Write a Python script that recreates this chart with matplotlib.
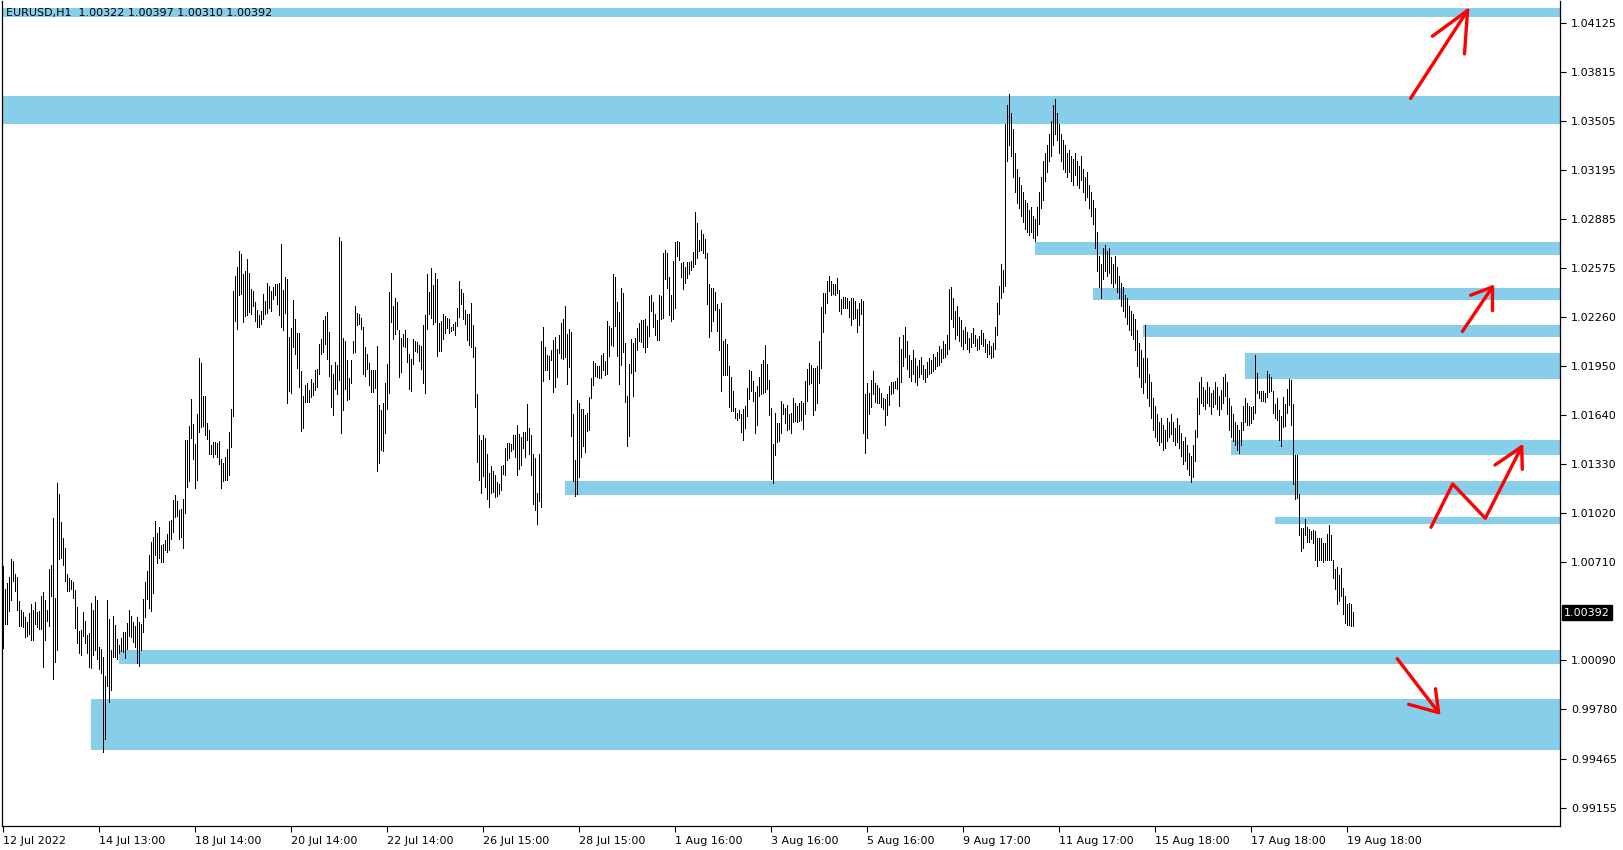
import matplotlib
matplotlib.use("Agg")
import matplotlib.pyplot as plt
from matplotlib.patches import Rectangle
from matplotlib.lines import Line2D

W, H = 1624, 850

TITLE = "EURUSD,H1  1.00322 1.00397 1.00310 1.00392"

HIGH = [
    # 12-14 Jul
    1.00686, 1.00541, 1.00579, 1.00617, 1.00731, 1.00718, 1.00636, 1.00617, 1.00465, 1.00408,
    1.00395, 1.00363, 1.00332, 1.00389, 1.00446, 1.00408, 1.00458, 1.00395, 1.00401, 1.00496,
    1.00522, 1.00471, 1.00408, 1.00667, 1.00693, 1.00990, 1.00484, 1.01212, 1.01142, 1.00965,
    1.00864, 1.00800, 1.00636, 1.00610, 1.00598, 1.00585, 1.00534, 1.00427, 1.00275, 1.00281,
    1.00395, 1.00338, 1.00250, 1.00262, 1.00452, 1.00408, 1.00496, 1.00471, 1.00174, 1.00161,
    1.00110, 0.99990, 1.00471, 1.00351, 1.00155, 1.00370, 1.00313, 1.00224, 1.00186, 1.00231,
    1.00269, 1.00269, 1.00326, 1.00408, 1.00370, 1.00332, 1.00307, 1.00363, 1.00332, 1.00319,
    1.00477, 1.00585, 1.00655, 1.00756, 1.00838,
    # 15-19 Jul
    1.00869, 1.00970, 1.00894, 1.00932, 1.00818, 1.00824, 1.00850, 1.00888, 1.00970, 1.00976,
    1.01103, 1.01135, 1.01097, 1.01040, 1.01046, 1.01109, 1.01483, 1.01483, 1.01571, 1.01742,
    1.01584, 1.01457, 1.01647, 1.02002, 1.01970, 1.01761, 1.01761, 1.01590, 1.01546, 1.01451,
    1.01470, 1.01470, 1.01464, 1.01476, 1.01362, 1.01337, 1.01375, 1.01426, 1.01533, 1.01679,
    1.02426, 1.02521, 1.02578, 1.02679, 1.02660, 1.02533, 1.02552, 1.02628, 1.02540, 1.02439,
    1.02426, 1.02356, 1.02306, 1.02274, 1.02299, 1.02407, 1.02363, 1.02477, 1.02458, 1.02426,
    1.02451, 1.02470, 1.02470, 1.02477, 1.02723, 1.02432, 1.02514, 1.02502, 1.02135, 1.02192,
    1.02369, 1.02249, 1.02160, 1.02160, 1.01919,
    # 19-22 Jul
    1.01761, 1.01831, 1.01844, 1.01799, 1.01869, 1.01844, 1.01926, 1.01932, 1.02090, 1.02122,
    1.02242, 1.02268, 1.02293, 1.02166, 1.01957, 1.01900, 1.01976, 1.01957, 1.02768, 1.02742,
    1.02128, 1.02109, 1.01989, 1.01875, 1.01989, 1.02109, 1.02331, 1.02287, 1.02280, 1.02255,
    1.02198, 1.02071, 1.02027, 1.01970, 1.01926, 1.01926, 1.01926, 1.02078, 1.01704, 1.01673,
    1.01717, 1.01844, 1.01964, 1.02420, 1.02540, 1.02331, 1.02382, 1.02356, 1.02179, 1.02128,
    1.02154, 1.02179, 1.02128, 1.02027, 1.01995, 1.02122, 1.02109, 1.02103, 1.02084, 1.02078,
    1.02211, 1.02274, 1.02533, 1.02420, 1.02571, 1.02464, 1.02540, 1.02502, 1.02223, 1.02236,
    1.02280, 1.02268, 1.02255, 1.02249, 1.02198,
    # 25-28 Jul
    1.02218, 1.02231, 1.02319, 1.02490, 1.02439, 1.02414, 1.02306, 1.02281, 1.02281, 1.02351,
    1.02212, 1.02072, 1.01775, 1.01515, 1.01484, 1.01515, 1.01496, 1.01395, 1.01275, 1.01319,
    1.01287, 1.01262, 1.01218, 1.01205, 1.01319, 1.01325, 1.01433, 1.01465, 1.01465, 1.01458,
    1.01515, 1.01515, 1.01579, 1.01522, 1.01503, 1.01534, 1.01534, 1.01711, 1.01560, 1.01515,
    1.01395, 1.01370, 1.01148, 1.01395, 1.02110, 1.02199, 1.02072, 1.02022, 1.02015, 1.02053,
    1.02117, 1.02136, 1.02060, 1.02148, 1.02224, 1.02250, 1.02332, 1.02155, 1.02186, 1.02167,
    1.01648, 1.01357, 1.01737, 1.01718, 1.01680, 1.01680, 1.01642, 1.01655, 1.01756, 1.01876,
    1.01984, 1.01971, 1.01952, 1.01952, 1.02022,
    # 28 Jul - 2 Aug
    1.02034, 1.01984, 1.02237, 1.02205, 1.02192, 1.02534, 1.02515, 1.02357, 1.02294, 1.02446,
    1.02414, 1.02097, 1.01762, 1.01965, 1.02123, 1.02097, 1.02129, 1.02192, 1.02224, 1.02243,
    1.02243, 1.02249, 1.02205, 1.02395, 1.02401, 1.02357, 1.02281, 1.02243, 1.02401, 1.02395,
    1.02667, 1.02686, 1.02667, 1.02515, 1.02401, 1.02617, 1.02737, 1.02743, 1.02737, 1.02604,
    1.02610, 1.02579, 1.02610, 1.02610, 1.02617, 1.02673, 1.02927, 1.02857, 1.02749, 1.02813,
    1.02787, 1.02756, 1.02667, 1.02471, 1.02446, 1.02446, 1.02420, 1.02344, 1.02313, 1.02351,
    1.02110, 1.02123, 1.02091, 1.01952, 1.01882, 1.01794, 1.01686, 1.01654, 1.01673, 1.01648,
    1.01680, 1.01699, 1.01813, 1.01927, 1.01920,
    # 3-8 Aug
    1.01857, 1.01787, 1.01825, 1.01882, 1.01964, 1.01990, 1.02085, 1.01964, 1.01863, 1.01686,
    1.01458, 1.01654, 1.01591, 1.01591, 1.01730, 1.01711, 1.01686, 1.01705, 1.01648, 1.01654,
    1.01749, 1.01717, 1.01698, 1.01717, 1.01730, 1.01717, 1.01857, 1.01933, 1.01971, 1.01958,
    1.01939, 1.01939, 1.01952, 1.02110, 1.02325, 1.02414, 1.02414, 1.02490, 1.02521, 1.02490,
    1.02471, 1.02471, 1.02509, 1.02433, 1.02376, 1.02388, 1.02388, 1.02382, 1.02363, 1.02382,
    1.02382, 1.02363, 1.02312, 1.02350, 1.02376, 1.02363, 1.01774, 1.01844, 1.01781, 1.01863,
    1.01920, 1.01844, 1.01831, 1.01812, 1.01781, 1.01749, 1.01743, 1.01774, 1.01825, 1.01850,
    1.01850, 1.01857, 1.01876, 1.02135,
    # 8-10 Aug
    1.02060, 1.02150, 1.02200, 1.02110, 1.02020, 1.01990, 1.02050, 1.02000, 1.01950, 1.01990,
    1.02010, 1.01960, 1.01930, 1.01980,
    1.02000, 1.01990, 1.02030, 1.02010, 1.02040, 1.02080, 1.02060, 1.02110, 1.02090, 1.02150,
    1.02440, 1.02450, 1.02380, 1.02300,
    1.02330, 1.02260, 1.02240, 1.02180, 1.02200, 1.02170, 1.02130, 1.02160, 1.02190, 1.02150,
    1.02120, 1.02140, 1.02180, 1.02160, 1.02120, 1.02090, 1.02110, 1.02080, 1.02100,
    1.02200, 1.02350, 1.02460, 1.02600, 1.02560,
    1.03480, 1.03600, 1.03671, 1.03550, 1.03450, 1.03300, 1.03200, 1.03150, 1.03100, 1.03050,
    1.03000, 1.02980, 1.02940, 1.02960, 1.02900, 1.02880, 1.02960,
    # 11-12 Aug
    1.03050, 1.03150, 1.03250, 1.03300, 1.03350, 1.03420, 1.03500, 1.03600, 1.03640, 1.03550,
    1.03480, 1.03420, 1.03380,
    1.03350, 1.03300, 1.03320, 1.03280, 1.03260, 1.03300, 1.03250, 1.03220, 1.03280, 1.03200,
    1.03150, 1.03180, 1.03100, 1.03050,
    1.03000, 1.02950, 1.02800, 1.02650, 1.02600, 1.02700, 1.02720, 1.02680, 1.02700, 1.02640,
    1.02600, 1.02650, 1.02580, 1.02520, 1.02480, 1.02450,
    # 15-17 Aug
    1.02400, 1.02380, 1.02330, 1.02300, 1.02280, 1.02250, 1.02180, 1.02100, 1.02050, 1.02000,
    1.02210, 1.02000,
    1.01900, 1.01850, 1.01750, 1.01700, 1.01650, 1.01600, 1.01620, 1.01580,
    1.01550, 1.01620, 1.01600, 1.01650, 1.01600, 1.01560, 1.01620, 1.01580, 1.01530, 1.01480,
    1.01500, 1.01450, 1.01400, 1.01380, 1.01450, 1.01550,
    1.01750, 1.01850, 1.01880, 1.01820, 1.01800, 1.01850, 1.01820, 1.01780, 1.01800, 1.01850,
    1.01820, 1.01760, 1.01800, 1.01880, 1.01900, 1.01850, 1.01750,
    1.01700, 1.01650, 1.01600, 1.01580, 1.01550, 1.01600, 1.01700, 1.01750, 1.01720, 1.01700,
    # 17-19 Aug
    1.01695, 1.01699, 1.02022, 1.01906, 1.01794, 1.01794, 1.01794, 1.01779, 1.01920, 1.01899,
    1.01885, 1.01794, 1.01714, 1.01747, 1.01674, 1.01636, 1.01758, 1.01709, 1.01804, 1.01868,
    1.01863, 1.01712, 1.01389, 1.01389, 1.01140, 1.00929, 1.00929, 1.00982, 1.00935, 1.00918,
    1.00910, 1.00914, 1.00907, 1.00861, 1.00861, 1.00861, 1.00830, 1.00830, 1.00889, 1.00946,
    1.00882, 1.00724, 1.00665, 1.00680, 1.00629, 1.00677, 1.00545, 1.00498, 1.00446, 1.00454,
    1.00446, 1.00397,
]

LOW = [
    1.00169, 1.00319, 1.00319, 1.00401, 1.00471, 1.00591, 1.00528, 1.00408, 1.00307, 1.00307,
    1.00300, 1.00239, 1.00243, 1.00256, 1.00218, 1.00218, 1.00319, 1.00300, 1.00288, 1.00288,
    1.00049, 1.00218, 1.00338, 1.00307, 1.00496, 0.99971, 1.00079, 1.00155, 1.00731, 1.00737,
    1.00693, 1.00591, 1.00528, 1.00528, 1.00541, 1.00484, 1.00294, 1.00199, 1.00136, 1.00123,
    1.00243, 1.00199, 1.00136, 1.00047, 1.00041, 1.00123, 1.00155, 1.00098, 1.00034, 1.00009,
    0.99509, 0.99591, 0.99927, 0.99828, 0.99901, 1.00110, 1.00110, 1.00098, 1.00136, 1.00148,
    1.00142, 1.00104, 1.00161, 1.00243, 1.00237, 1.00205, 1.00174, 1.00072, 1.00053, 1.00155,
    1.00269, 1.00363, 1.00477, 1.00420, 1.00401,
    1.00514, 1.00757, 1.00706, 1.00738, 1.00713, 1.00713, 1.00789, 1.00776, 1.00789, 1.00858,
    1.00902, 1.00997, 1.01004, 1.00858, 1.00871, 1.00801, 1.01023, 1.01187, 1.01225, 1.01497,
    1.01365, 1.01181, 1.01232, 1.01535, 1.01567, 1.01573, 1.01516, 1.01491, 1.01396, 1.01396,
    1.01377, 1.01396, 1.01377, 1.01333, 1.01181, 1.01225, 1.01232, 1.01232, 1.01263, 1.01440,
    1.01637, 1.02238, 1.02187, 1.02403, 1.02409, 1.02232, 1.02270, 1.02276, 1.02295, 1.02282,
    1.02333, 1.02238, 1.02200, 1.02200, 1.02219, 1.02251, 1.02282, 1.02289, 1.02320, 1.02301,
    1.02377, 1.02403, 1.02346, 1.02276, 1.02200, 1.02181, 1.02289, 1.01719, 1.01795, 1.01782,
    1.02073, 1.02029, 1.01941, 1.01820, 1.01542,
    1.01561, 1.01723, 1.01723, 1.01723, 1.01755, 1.01768, 1.01799, 1.01818, 1.01900, 1.02027,
    1.02040, 1.02090, 1.01995, 1.01888, 1.01692, 1.01641, 1.01806, 1.01774, 1.01862, 1.01527,
    1.01673, 1.01806, 1.01736, 1.01742, 1.01844, 1.02033, 1.02040, 1.02211, 1.02217, 1.02185,
    1.01900, 1.01888, 1.01932, 1.01831, 1.01787, 1.01787, 1.01812, 1.01286, 1.01337, 1.01419,
    1.01413, 1.01527, 1.01679, 1.01780, 1.02230, 1.02122, 1.02154, 1.02185, 1.01881, 1.01913,
    1.02078, 1.02071, 1.01976, 1.01806, 1.01793, 1.01964, 1.02046, 1.02040, 1.01983, 1.01932,
    1.01844, 1.01780, 1.02185, 1.02280, 1.02255, 1.02217, 1.02230, 1.02014, 1.02046, 1.02046,
    1.02122, 1.02160, 1.02192, 1.02160, 1.02173,
    1.02180, 1.02148, 1.02205, 1.02262, 1.02344, 1.02250, 1.02218, 1.02117, 1.02085, 1.02072,
    1.02009, 1.01692, 1.01344, 1.01230, 1.01148, 1.01256, 1.01186, 1.01110, 1.01059, 1.01148,
    1.01154, 1.01123, 1.01129, 1.01142, 1.01167, 1.01268, 1.01262, 1.01357, 1.01370, 1.01414,
    1.01427, 1.01376, 1.01262, 1.01300, 1.01325, 1.01433, 1.01376, 1.01484, 1.01395, 1.01262,
    1.01078, 1.01040, 1.00952, 1.01097, 1.01059, 1.01857, 1.01927, 1.01927, 1.01870, 1.01990,
    1.01787, 1.01819, 1.01882, 1.02034, 1.02003, 1.01996, 1.02009, 1.01838, 1.01946, 1.01509,
    1.01224, 1.01129, 1.01142, 1.01249, 1.01376, 1.01446, 1.01408, 1.01541, 1.01547, 1.01749,
    1.01832, 1.01889, 1.01882, 1.01876, 1.01876,
    1.01927, 1.01895, 1.01901, 1.02015, 1.02085, 1.02078, 1.02205, 1.02015, 1.01838, 1.01958,
    1.02040, 1.01724, 1.01445, 1.01509, 1.01908, 1.01762, 1.01920, 1.02053, 1.02110, 1.02104,
    1.02072, 1.02040, 1.02072, 1.02142, 1.02300, 1.02199, 1.02148, 1.02116, 1.02116, 1.02249,
    1.02256, 1.02503, 1.02446, 1.02275, 1.02237, 1.02249, 1.02319, 1.02648, 1.02623, 1.02515,
    1.02439, 1.02477, 1.02509, 1.02534, 1.02560, 1.02579, 1.02598, 1.02636, 1.02680, 1.02686,
    1.02667, 1.02636, 1.02344, 1.02135, 1.02173, 1.02237, 1.02306, 1.02173, 1.02053, 1.01794,
    1.01895, 1.01895, 1.01895, 1.01692, 1.01667, 1.01667, 1.01621, 1.01610, 1.01621, 1.01534,
    1.01483, 1.01559, 1.01635, 1.01743, 1.01794,
    1.01730, 1.01528, 1.01578, 1.01762, 1.01774, 1.01781, 1.01787, 1.01806, 1.01641, 1.01236,
    1.01211, 1.01388, 1.01471, 1.01477, 1.01528, 1.01648, 1.01591, 1.01547, 1.01553, 1.01528,
    1.01597, 1.01604, 1.01597, 1.01604, 1.01610, 1.01553, 1.01648, 1.01730, 1.01838, 1.01844,
    1.01641, 1.01673, 1.01717, 1.01844, 1.01939, 1.02167, 1.02287, 1.02350, 1.02426, 1.02401,
    1.02407, 1.02401, 1.02414, 1.02300, 1.02281, 1.02319, 1.02319, 1.02319, 1.02262, 1.02211,
    1.02249, 1.02256, 1.02167, 1.02211, 1.02281, 1.01528, 1.01401, 1.01496, 1.01648, 1.01692,
    1.01774, 1.01724, 1.01717, 1.01717, 1.01692, 1.01679, 1.01578, 1.01641, 1.01705, 1.01774,
    1.01781, 1.01812, 1.01806, 1.01698,
    # 8-10 Aug
    1.01850, 1.01950, 1.02010, 1.01930, 1.01880, 1.01860, 1.01900, 1.01850, 1.01830, 1.01880,
    1.01900, 1.01870, 1.01850, 1.01880,
    1.01900, 1.01910, 1.01920, 1.01930, 1.01950, 1.01960, 1.01980, 1.02000, 1.02010, 1.02030,
    1.02060, 1.02250, 1.02200, 1.02120,
    1.02150, 1.02110, 1.02080, 1.02060, 1.02100, 1.02060, 1.02040, 1.02070, 1.02100, 1.02080,
    1.02050, 1.02060, 1.02090, 1.02080, 1.02040, 1.02010, 1.02030, 1.02000, 1.02010,
    1.02060, 1.02150, 1.02280, 1.02380, 1.02420,
    1.02460, 1.03250, 1.03350, 1.03280, 1.03150, 1.03050, 1.02980, 1.02950, 1.02900, 1.02860,
    1.02820, 1.02800, 1.02780, 1.02800, 1.02760, 1.02740, 1.02780,
    # 11-12 Aug
    1.02850, 1.02950, 1.03000, 1.03120, 1.03180, 1.03250, 1.03280, 1.03350, 1.03420, 1.03380,
    1.03300, 1.03250, 1.03200,
    1.03180, 1.03150, 1.03180, 1.03120, 1.03100, 1.03160, 1.03100, 1.03080, 1.03130, 1.03050,
    1.03000, 1.03020, 1.02950, 1.02900,
    1.02850, 1.02700, 1.02550, 1.02450, 1.02380, 1.02500, 1.02550, 1.02520, 1.02540, 1.02480,
    1.02450, 1.02480, 1.02420, 1.02380, 1.02330, 1.02300,
    # 15-17 Aug
    1.02260, 1.02220, 1.02180, 1.02150, 1.02120, 1.02050, 1.01950, 1.01880, 1.01820, 1.01780,
    1.01850, 1.01750,
    1.01700, 1.01620, 1.01550, 1.01500, 1.01480, 1.01450, 1.01470, 1.01420,
    1.01430, 1.01480, 1.01500, 1.01520, 1.01480, 1.01450, 1.01470, 1.01430, 1.01380, 1.01330,
    1.01350, 1.01300, 1.01260, 1.01220, 1.01250, 1.01350,
    1.01500, 1.01650, 1.01720, 1.01700, 1.01680, 1.01720, 1.01700, 1.01650, 1.01690, 1.01710,
    1.01680, 1.01640, 1.01680, 1.01720, 1.01760, 1.01650, 1.01550,
    1.01500, 1.01480, 1.01450, 1.01420, 1.01400, 1.01450, 1.01550, 1.01600, 1.01580, 1.01580,
    # 17-19 Aug
    1.01593, 1.01615, 1.01652, 1.01779, 1.01747, 1.01733, 1.01733, 1.01724, 1.01758, 1.01788,
    1.01794, 1.01652, 1.01621, 1.01610, 1.01484, 1.01448, 1.01568, 1.01570, 1.01652, 1.01705,
    1.01579, 1.01203, 1.01108, 1.01114, 1.00882, 1.00783, 1.00798, 1.00882, 1.00840, 1.00840,
    1.00855, 1.00830, 1.00724, 1.00688, 1.00724, 1.00724, 1.00709, 1.00724, 1.00724, 1.00724,
    1.00724, 1.00608, 1.00538, 1.00443, 1.00466, 1.00498, 1.00386, 1.00323, 1.00312, 1.00312,
    1.00306, 1.00310,
]

X_LABELS = ["12 Jul 2022", "14 Jul 13:00", "18 Jul 14:00", "20 Jul 14:00", "22 Jul 14:00",
            "26 Jul 15:00", "28 Jul 15:00", "1 Aug 16:00", "3 Aug 16:00", "5 Aug 16:00",
            "9 Aug 17:00", "11 Aug 17:00", "15 Aug 18:00", "17 Aug 18:00", "19 Aug 18:00"]
X_LABEL_BARS = [0, 48, 96, 144, 192, 240, 288, 336, 384, 432, 480, 528, 576, 624, 672]

Y_TICKS = [1.04125, 1.03815, 1.03505, 1.03195, 1.02885, 1.02575, 1.02260, 1.01950,
           1.01640, 1.01330, 1.01020, 1.00710, 1.00090, 0.99780, 0.99465, 0.99155]
LAST_PRICE = 1.00392

# supply / demand zones: first bar, lower price, upper price (None = from chart start)
ZONE_START = [None, None, 516, 545, 570, 621, 614, 281, 636, 58, 44]
ZONE_LOW = [1.04157, 1.03486, 1.02657, 1.02372, 1.02135, 1.01870, 1.01389, 1.01136, 1.00953, 1.00067, 0.99522]
ZONE_HIGH = [1.04217, 1.03658, 1.02739, 1.02448, 1.02211, 1.02034, 1.01484, 1.01224, 1.00997, 1.00158, 0.99845]

ZONE_COLOR = "#87CEEB"

fig = plt.figure(figsize=(W / 100, H / 100), dpi=100)
fig.patch.set_facecolor("white")
ax = fig.add_axes([2 / W, (H - 826) / H, 1558 / W, 825 / H])
X_MIN, X_MAX = -0.75, 778.25
ax.set_xlim(X_MIN, X_MAX)
ax.set_ylim(0.990416, 1.042611)

for s, lo, hi in zip(ZONE_START, ZONE_LOW, ZONE_HIGH):
    x0 = X_MIN if s is None else s
    ax.add_patch(Rectangle((x0, lo), X_MAX - x0, hi - lo, facecolor=ZONE_COLOR,
                           edgecolor="none", zorder=1))

n = min(len(HIGH), len(LOW))
idx = list(range(n))
ax.vlines(idx, LOW[:n], HIGH[:n], colors="black", linewidth=0.72, antialiased=False,
          zorder=3)

for side in ["left", "bottom", "right"]:
    ax.spines[side].set_color("black")
    ax.spines[side].set_linewidth(0.9)
ax.spines["top"].set_visible(False)

ax.yaxis.tick_right()
ax.set_yticks(Y_TICKS)
ax.set_yticklabels([f"{v:.5f}" for v in Y_TICKS])
ax.tick_params(axis="y", direction="out", length=4, width=0.8, pad=4, labelsize=8,
               colors="black")
ax.set_xticks(X_LABEL_BARS)
ax.set_xticklabels(X_LABELS, ha="left")
ax.tick_params(axis="x", direction="out", length=4, width=0.8, pad=3, labelsize=8,
               colors="black")

# current price marker
ax.annotate(f"{LAST_PRICE:.5f}", xy=(1.0, LAST_PRICE), xycoords=("axes fraction", "data"),
            xytext=(4, 0), textcoords="offset pixels", ha="left", va="center",
            fontsize=8, color="white",
            bbox=dict(boxstyle="square,pad=0.2", facecolor="black", edgecolor="black"),
            zorder=10, annotation_clip=False)

ax.text(4 / 1558, 1 - 12 / 825, TITLE, transform=ax.transAxes, fontsize=8, color="black",
        ha="left", va="center", zorder=10)

# hand-drawn red arrows (reference pixel coordinates)
def P(pts):
    return [p[0] / W for p in pts], [1 - p[1] / H for p in pts]

ARROWS = [
    [(1410.6, 98.4), (1467.6, 10.4)], [(1432.4, 36.2), (1467.6, 10.4), (1464.5, 53.9)],
    [(1462.4, 331.4), (1492.5, 286.9)], [(1470.7, 295.2), (1492.5, 286.9), (1492.5, 310.7)],
    [(1431, 527.3), (1452.7, 484), (1485.3, 518.3), (1521.7, 446.7)],
    [(1495, 465), (1521.7, 446.7), (1522.3, 469.3)],
    [(1397.2, 658.7), (1438.6, 712.6)], [(1408.6, 704.3), (1438.6, 712.6), (1435.5, 688.7)],
]
for path in ARROWS:
    xs, ys = P(path)
    fig.add_artist(Line2D(xs, ys, transform=fig.transFigure, color="#FF0000",
                          linewidth=2.4, solid_capstyle="round", solid_joinstyle="round",
                          zorder=20))

fig.savefig("out.png", dpi=100, facecolor="white")
